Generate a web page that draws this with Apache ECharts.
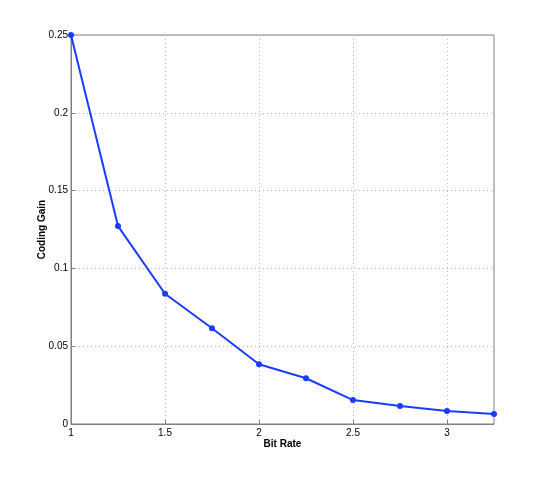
<!DOCTYPE html>
<html><head><meta charset="utf-8">
<script src="https://cdn.jsdelivr.net/npm/echarts@6/dist/echarts.min.js"></script>
<style>html,body{margin:0;padding:0;background:#fff}#c{width:545px;height:477px}</style>
</head><body><div id="c"></div>
<script>
var bitRate = [1, 1.25, 1.5, 1.75, 2, 2.25, 2.5, 2.75, 3, 3.25];
var codingGain = [0.25, 0.1272, 0.0837, 0.0615, 0.0384, 0.0294, 0.0154, 0.0116, 0.0084, 0.0064];
var xTitle = 'Bit Rate';
var yTitle = 'Coding Gain';

var chart = echarts.init(document.getElementById('c'), null, {renderer: 'canvas'});
var font = 'Liberation Sans, Arial, Helvetica, sans-serif';
var axisColor = '#808080';
chart.setOption({
  animation: false,
  backgroundColor: '#fff',
  grid: {left: 71, right: 51, top: 35, bottom: 53, show: true, borderColor: axisColor, borderWidth: 1, containLabel: false},
  xAxis: {
    type: 'value', min: 1, max: 3.25, interval: 0.5,
    name: xTitle, nameLocation: 'middle', nameGap: 15, nameMoveOverlap: false,
    nameTextStyle: {fontFamily: font, fontSize: 10, fontWeight: 'bold', color: '#000'},
    axisLine: {show: true, onZero: false, lineStyle: {color: axisColor, width: 1}},
    axisTick: {show: true, inside: true, length: 4, lineStyle: {color: axisColor}},
    axisLabel: {fontFamily: font, fontSize: 10, color: '#000', margin: 4, showMaxLabel: false},
    splitLine: {show: true, lineStyle: {color: '#b8b8b8', type: [1, 3], width: 1}}
  },
  yAxis: {
    type: 'value', min: 0, max: 0.25, interval: 0.05,
    name: yTitle, nameLocation: 'middle', nameGap: 24, nameRotate: 90, nameMoveOverlap: false,
    nameTextStyle: {fontFamily: font, fontSize: 10, fontWeight: 'bold', color: '#000'},
    axisLine: {show: true, lineStyle: {color: axisColor, width: 1}},
    axisTick: {show: true, inside: true, length: 4, lineStyle: {color: axisColor}},
    axisLabel: {fontFamily: font, fontSize: 10, color: '#000', margin: 3},
    splitLine: {show: true, lineStyle: {color: '#b8b8b8', type: [1, 3], width: 1}}
  },
  series: [{
    type: 'line',
    data: bitRate.map(function (x, i) { return [x, codingGain[i]]; }),
    symbol: 'circle', symbolSize: 6,
    lineStyle: {color: '#1a3cff', width: 2},
    itemStyle: {color: '#1a3cff'},
    clip: false
  }]
});
</script></body></html>
